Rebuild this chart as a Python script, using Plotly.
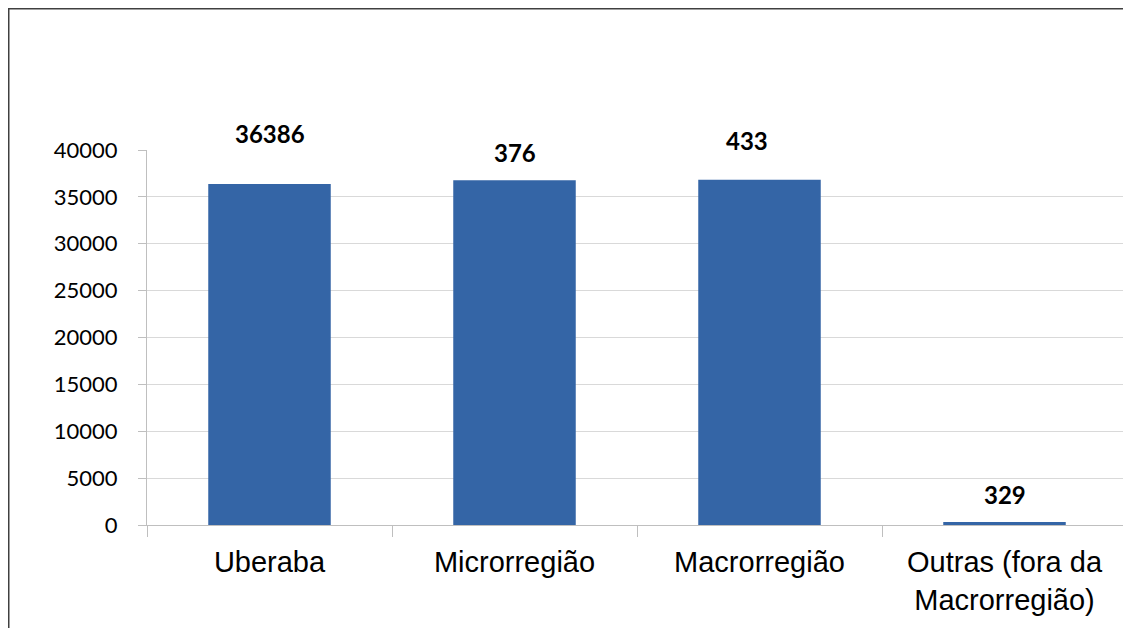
import plotly.graph_objects as go

# data
categories = ["Uberaba", "Microrregião", "Macrorregião", "Outras (fora da<br>Macrorregião)"]
bar_heights = [36386, 36762, 36819, 329]
bar_labels = ["36386", "376", "433", "329"]
y_ticks = [0, 5000, 10000, 15000, 20000, 25000, 30000, 35000, 40000]
y_tick_text = [str(v) for v in y_ticks]

# label offsets (pixels) to mimic the hand placed labels
label_yshift = [50, 28, 39, 27]
label_xshift = [0, 0, -13, 0]

# page has an 8px body margin, so the figure is a bit smaller than the window
W, H = 1123, 620
L, R, T, B = 139, 4, 142, 103

fig = go.Figure()

fig.add_trace(go.Bar(
    x=categories,
    y=bar_heights,
    marker=dict(color="#3465A6", line=dict(width=0)),
    hoverinfo="x+y",
    showlegend=False
))

for cat, h, txt, dy, dx in zip(categories, bar_heights, bar_labels, label_yshift, label_xshift):
    fig.add_annotation(
        x=cat, y=h, text=f"<b>{txt}</b>",
        showarrow=False, yanchor="middle", xanchor="center",
        yshift=dy, xshift=dx,
        font=dict(family="Lato", size=24, color="#000000")
    )

# outer frame (top and left edges only, as in the reference crop)
def px_x(px):
    return (px - L) / (W - L - R)

def px_y(py):
    return (H - B - py) / (H - T - B)

fig.add_shape(
    type="path",
    xref="paper", yref="paper",
    path=f"M {px_x(0.75)} {px_y(H)} L {px_x(0.75)} {px_y(0.75)} L {px_x(W)} {px_y(0.75)}",
    line=dict(color="#404040", width=1.5)
)

fig.update_layout(
    width=W,
    height=H,
    margin=dict(l=L, r=R, t=T, b=B),
    paper_bgcolor="white",
    plot_bgcolor="white",
    bargap=0.5,
    xaxis=dict(
        showgrid=False,
        showline=True,
        linecolor="#bfbfbf",
        linewidth=1,
        ticks="outside",
        tickson="boundaries",
        ticklen=11,
        tickcolor="#bfbfbf",
        ticklabelstandoff=11,
        tickfont=dict(family="Liberation Sans", size=29, color="#000000"),
    ),
    yaxis=dict(
        range=[0, 40000],
        tickvals=y_ticks,
        ticktext=y_tick_text,
        showgrid=True,
        gridcolor="#d9d9d9",
        gridwidth=1,
        zeroline=False,
        showline=True,
        linecolor="#bfbfbf",
        linewidth=1,
        ticks="outside",
        ticklen=8,
        tickcolor="#bfbfbf",
        ticklabelstandoff=16,
        tickfont=dict(family="Lato", size=22, color="#000000"),
    ),
)

fig.write_html("out.html")
